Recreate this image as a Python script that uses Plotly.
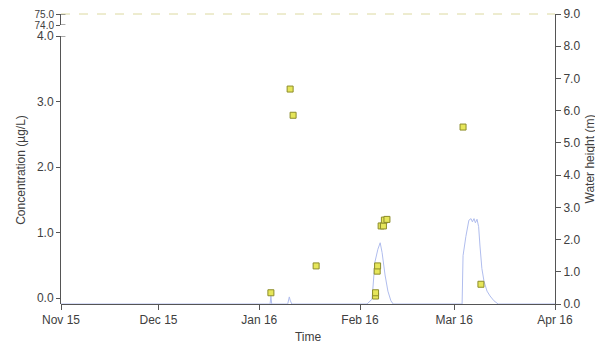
import plotly.graph_objects as go

# ---- data ----
conc_dates = ["2016-01-04 14:00", "2016-01-10 12:00", "2016-01-11 10:00", "2016-01-18 12:00",
              "2016-02-05 19:00", "2016-02-05 19:00", "2016-02-06 07:00", "2016-02-06 10:00",
              "2016-02-07 12:00", "2016-02-08 05:00", "2016-02-08 12:00", "2016-02-09 07:00",
              "2016-03-03 17:00", "2016-03-09 05:00"]
conc_values = [0.08, 3.19, 2.79, 0.49,
               0.03, 0.08, 0.41, 0.49,
               1.10, 1.10, 1.19, 1.20,
               2.61, 0.21]

water_dates = ["2015-11-01 00:00", "2016-01-04 08:00", "2016-01-04 14:00", "2016-01-04 20:00",
               "2016-01-09 18:00", "2016-01-10 06:00", "2016-01-10 12:00", "2016-01-11 00:00",
               "2016-02-03 04:00", "2016-02-04 17:00", "2016-02-05 14:00", "2016-02-06 12:00",
               "2016-02-07 05:00", "2016-02-07 19:00", "2016-02-08 17:00", "2016-02-09 14:00",
               "2016-02-10 12:00", "2016-02-11 05:00",
               "2016-03-03 10:00", "2016-03-03 17:00", "2016-03-04 14:00", "2016-03-05 12:00",
               "2016-03-06 04:00", "2016-03-06 14:00", "2016-03-07 02:00", "2016-03-07 12:00",
               "2016-03-08 00:00", "2016-03-08 12:00", "2016-03-08 22:00", "2016-03-09 12:00",
               "2016-03-10 04:00", "2016-03-11 02:00", "2016-03-12 00:00", "2016-03-13 05:00",
               "2016-03-14 12:00", "2016-04-01 00:00"]
water_heights = [0.0, 0.0, 0.25, 0.0,
                 0.0, 0.22, 0.12, 0.0,
                 0.0, 0.15, 1.3, 1.7,
                 1.9, 1.6, 0.9, 0.4,
                 0.1, 0.0,
                 0.0, 1.5, 2.1, 2.6,
                 2.65, 2.55, 2.65, 2.52,
                 2.63, 2.4, 1.8, 1.1,
                 0.7, 0.4, 0.25, 0.1,
                 0.0, 0.0]

month_ticks = ["2015-11-01", "2015-12-01", "2016-01-01", "2016-02-01", "2016-03-01", "2016-04-01"]
month_labels = ["Nov 15", "Dec 15", "Jan 16", "Feb 16", "Mar 16", "Apr 16"]
conc_ticks_low = [0, 1, 2, 3, 4]
conc_ticks_high = [74, 75]
water_ticks = [0, 1, 2, 3, 4, 5, 6, 7, 8, 9]

AX = "#555555"
TXT = "#404040"
FONT = "Liberation Sans, Arial, sans-serif"
FS = 12

fig = go.Figure()
fig.add_trace(go.Scatter(x=water_dates, y=water_heights, mode="lines",
                         line=dict(color="#b0bdee", width=1), xaxis="x", yaxis="y",
                         showlegend=False, hoverinfo="skip"))
fig.add_trace(go.Scatter(x=conc_dates, y=conc_values, mode="markers",
                         marker=dict(symbol="square", size=6, color="#e6e65a",
                                     line=dict(color="#8c8c2a", width=1)),
                         xaxis="x", yaxis="y2", showlegend=False))

common_y = dict(showgrid=False, zeroline=False, showline=True, linecolor=AX, linewidth=1,
                ticks="outside", ticklen=4, tickcolor=AX, tickwidth=1, automargin=False,
                ticklabeloverflow="allow",
                tickfont=dict(size=FS, color=TXT, family=FONT), tickformat=".1f")

# page has an 8px body margin: figure sized so the plot lands where the reference has it
fig.update_layout(
    width=595, height=347,
    margin=dict(l=53, r=48, t=6, b=51, autoexpand=False),
    paper_bgcolor="white", plot_bgcolor="rgba(0,0,0,0)",
    font=dict(family=FONT, color=TXT, size=FS),
    xaxis=dict(range=["2015-11-01", "2016-04-01"], anchor="y", showgrid=False, zeroline=False,
               showline=True, linecolor=AX, linewidth=1, ticks="outside", ticklen=5,
               tickcolor=AX, tickvals=month_ticks, ticktext=month_labels, automargin=False,
               ticklabeloverflow="allow",
               tickfont=dict(size=FS, color=TXT, family=FONT), layer="below traces",
               title=dict(text="Time", font=dict(size=FS, color=TXT), standoff=6)),
    yaxis=dict(common_y, domain=[0, 1], range=[0, 9], side="right", anchor="x",
               tickvals=water_ticks, ticklen=5,
               title=dict(text="Water height (m)", font=dict(size=FS, color=TXT), standoff=6)),
    yaxis2=dict(common_y, domain=[0, 268 / 290], range=[-0.0916, 4.0], side="left", anchor="x",
                tickvals=conc_ticks_low,
                title=dict(text="Concentration (µg/L)", font=dict(size=FS, color=TXT), standoff=8)),
    yaxis3=dict(common_y, domain=[279 / 290, 1], range=[74, 75], side="left", anchor="x",
                tickvals=conc_ticks_high, tickfont=dict(size=10, color=TXT, family=FONT)),
)

# dashed reference line along the top
fig.add_shape(type="line", xref="paper", yref="paper", x0=0, x1=1, y0=1, y1=1,
              line=dict(color="#dcd9a0", width=1, dash="dash"))
# axis-break caps
fig.add_shape(type="line", xref="paper", yref="y3", x0=0, x1=0.009, y0=74, y1=74,
              line=dict(color=AX, width=1))
fig.add_shape(type="line", xref="paper", yref="y2", x0=0, x1=0.009, y0=4, y1=4,
              line=dict(color=AX, width=1))
fig.add_shape(type="line", xref="paper", yref="y3", x0=0, x1=0.009, y0=75, y1=75,
              line=dict(color=AX, width=1))

fig.write_html("out.html")
